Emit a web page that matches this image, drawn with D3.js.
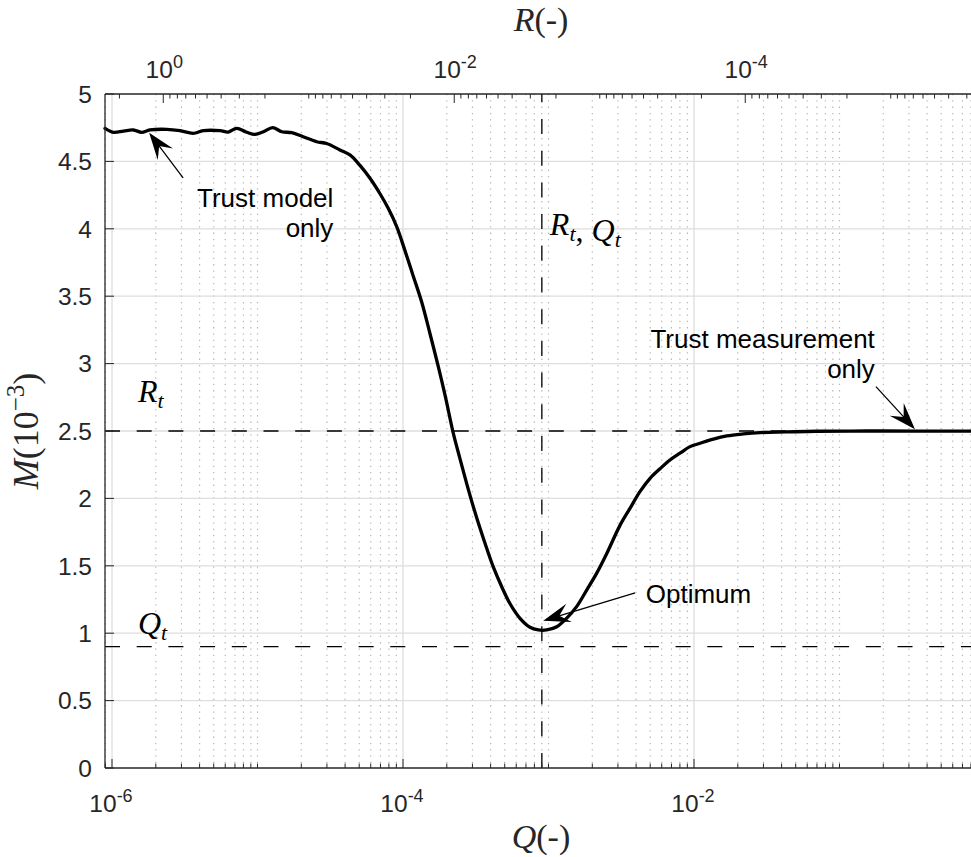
<!DOCTYPE html>
<html><head><meta charset="utf-8">
<script src="https://cdn.jsdelivr.net/npm/d3@7"></script>
<style>body{margin:0;background:#fff}svg{display:block}</style>
</head><body>
<svg id="chart" width="971" height="857"></svg>
<script>
// ---------- data ----------
const Q = [8.95e-7,1.02e-6,1.2e-6,1.4e-6,1.6e-6,1.82e-6,2.38e-6,2.93e-6,3.62e-6,4.24e-6,5.52e-6,6.3e-6,7.19e-6,8.43e-6,9.6e-6,
  1.1e-5,1.27e-5,1.47e-5,1.72e-5,2.06e-5,2.55e-5,2.99e-5,3.69e-5,4.32e-5,5.06e-5,5.93e-5,6.95e-5,7.93e-5,9.05e-5,
  1.03e-4,1.18e-4,1.35e-4,1.53e-4,1.75e-4,1.95e-4,2.22e-4,2.47e-4,2.74e-4,3.04e-4,3.38e-4,3.76e-4,4.18e-4,4.77e-4,5.43e-4,6.37e-4,7.46e-4,8.51e-4,9.72e-4,
  1.14e-3,1.33e-3,1.56e-3,1.83e-3,2.14e-3,2.51e-3,3.10e-3,3.63e-3,4.25e-3,4.99e-3,5.84e-3,6.84e-3,8.01e-3,9.39e-3,
  1.1e-2,1.36e-2,1.68e-2,2.18e-2,2.84e-2,4.34e-2,6.97e-2,0.154,0.35,1.0];
const M = [4.745,4.716,4.725,4.733,4.716,4.733,4.738,4.728,4.708,4.728,4.728,4.718,4.745,4.716,4.70,
  4.72,4.75,4.72,4.713,4.683,4.646,4.633,4.585,4.548,4.47,4.375,4.26,4.15,4.016,
  3.84,3.645,3.45,3.225,2.975,2.76,2.48,2.29,2.11,1.94,1.78,1.63,1.49,1.345,1.22,1.11,1.044,1.024,1.024,
  1.048,1.11,1.197,1.32,1.444,1.59,1.80,1.926,2.05,2.149,2.22,2.285,2.335,2.384,
  2.409,2.44,2.463,2.478,2.488,2.493,2.498,2.5,2.499,2.5];
const Rt = 2.5e-3;          // R_t
const Qt = 9e-4;            // Q_t
const Mref = [2.5, 0.9];    // horizontal reference lines (R_t, Q_t)
const qLimits = [8.95e-7, 1];
const yLimits = [0, 5];
const bottomTicks = [1e-6, 1e-4, 1e-2];
const bottomTickExp = ["-6", "-4", "-2"];
const topTicks = [1, 1e-2, 1e-4];
const topTickExp = ["0", "-2", "-4"];
const yTicks = [0,0.5,1,1.5,2,2.5,3,3.5,4,4.5,5];
const yTickLabels = ["0","0.5","1","1.5","2","2.5","3","3.5","4","4.5","5"];
const notes = [
  {lines:["Trust model","only"], q:3.32e-5, m:4.164, anchor:"end"},
  {lines:["Trust measurement","only"], q:0.175, m:3.116, anchor:"end"},
  {lines:["Optimum"], q:4.66e-3, m:1.222, anchor:"start"}
];
const arrows = [
  {from:[3.08e-6,4.377], to:[1.8e-6,4.713]},
  {from:[0.178,2.829], to:[0.33,2.513]},
  {from:[3.94e-3,1.30], to:[9.2e-4,1.093]}
];

// ---------- layout ----------
const L = 105, Rgt = 985, T = 94, B = 768;
const svg = d3.select("#chart");
const x = d3.scaleLog().domain(qLimits).range([L, Rgt]);
const rq = Rt * Qt;
const xr = d3.scaleLog().domain([rq/qLimits[0], rq/qLimits[1]]).range([L, Rgt]);
const y = d3.scaleLinear().domain(yLimits).range([B, T]);
const axisCol = "#262626";
const sans = "'Liberation Sans', Arial, Helvetica, sans-serif";
const serif = "'Liberation Serif', 'Times New Roman', serif";

function logTicks(dom, majors) {
  const lo = Math.min(...dom), hi = Math.max(...dom);
  const out = [];
  for (let k = -8; k <= 1; k++) for (let m = 1; m <= 9; m++) {
    const v = +(m * Math.pow(10, k)).toPrecision(6);
    if (v >= lo && v <= hi) out.push({v, major: m === 1 && majors.some(t => Math.abs(Math.log10(t) - k) < 1e-9)});
  }
  return out;
}
const bt = logTicks(qLimits, bottomTicks.concat([1]));
const tt = logTicks(xr.domain(), topTicks);

// grid
const grid = svg.append("g");
grid.selectAll(".vminor").data(bt.filter(d => !d.major)).join("line")
  .attr("x1", d => x(d.v)).attr("x2", d => x(d.v)).attr("y1", T).attr("y2", B)
  .attr("stroke", "#b5b5b5").attr("stroke-width", 1.2).attr("stroke-dasharray", "1.3,5");
grid.selectAll(".vmajor").data(bt.filter(d => d.major)).join("line")
  .attr("x1", d => x(d.v)).attr("x2", d => x(d.v)).attr("y1", T).attr("y2", B)
  .attr("stroke", "#dedede").attr("stroke-width", 1.3);
grid.selectAll(".hmajor").data(yTicks.slice(1, -1)).join("line")
  .attr("x1", L).attr("x2", Rgt).attr("y1", d => y(d)).attr("y2", d => y(d))
  .attr("stroke", "#dedede").attr("stroke-width", 1.3);

// reference dashed lines
const dash = "15,16.7";
svg.selectAll(".href").data(Mref).join("line")
  .attr("x1", L).attr("x2", Rgt).attr("y1", d => y(d)).attr("y2", d => y(d))
  .attr("stroke", "#000").attr("stroke-width", 1.3).attr("stroke-dasharray", dash);
svg.append("line").attr("x1", x(Qt)).attr("x2", x(Qt)).attr("y1", B).attr("y2", T)
  .attr("stroke", "#000").attr("stroke-width", 1.3).attr("stroke-dasharray", dash);

// curve
const pts = Q.map((q, i) => [q, M[i]]);
svg.append("path").datum(pts)
  .attr("d", d3.line().x(d => x(d[0])).y(d => y(d[1])).curve(d3.curveCatmullRom.alpha(0.5)))
  .attr("fill", "none").attr("stroke", "#000").attr("stroke-width", 3.3)
  .attr("stroke-linejoin", "round").attr("stroke-linecap", "round");

// axes lines
const ax = svg.append("g").attr("stroke", axisCol).attr("stroke-width", 1.3);
ax.append("line").attr("x1", L).attr("x2", Rgt).attr("y1", B).attr("y2", B);
ax.append("line").attr("x1", L).attr("x2", Rgt).attr("y1", T).attr("y2", T);
ax.append("line").attr("x1", L).attr("x2", L).attr("y1", T).attr("y2", B);
ax.selectAll(".bt").data(bt).join("line")
  .attr("x1", d => x(d.v)).attr("x2", d => x(d.v)).attr("y1", B).attr("y2", d => B - (d.major ? 9 : 4.5))
  .attr("stroke-width", 1);
ax.selectAll(".tt").data(tt).join("line")
  .attr("x1", d => xr(d.v)).attr("x2", d => xr(d.v)).attr("y1", T).attr("y2", d => T + (d.major ? 9 : 4.5))
  .attr("stroke-width", 1);
ax.selectAll(".yt").data(yTicks).join("line")
  .attr("x1", L).attr("x2", L + 9).attr("y1", d => y(d)).attr("y2", d => y(d)).attr("stroke-width", 1);

// tick labels
const fsTick = 24.5;
function powLabel(px, py, exp) {
  const t = svg.append("text").attr("x", px).attr("y", py).attr("text-anchor", "middle")
    .attr("font-family", sans).attr("font-size", fsTick).attr("fill", axisCol);
  t.append("tspan").text("10");
  t.append("tspan").attr("dy", -10).attr("font-size", 18).text(exp);
}
bottomTicks.forEach((v, i) => powLabel(x(v) - 1, 812, bottomTickExp[i]));
topTicks.forEach((v, i) => powLabel(xr(v) + 1, 78, topTickExp[i]));
svg.selectAll(".yl").data(yTicks).join("text")
  .attr("x", 92).attr("y", d => y(d) + 8.7).attr("text-anchor", "end")
  .attr("font-family", sans).attr("font-size", fsTick).attr("fill", axisCol)
  .text((d, i) => yTickLabels[i]);

// axis labels
const fsLab = 34;
function qlab(letter, py) {
  const t = svg.append("text").attr("x", (L + Rgt) / 2 - 4).attr("y", py).attr("text-anchor", "middle")
    .attr("font-family", serif).attr("font-size", fsLab).attr("fill", axisCol);
  t.append("tspan").attr("font-style", "italic").text(letter);
  t.append("tspan").text("(-)");
}
qlab("Q", 848);
qlab("R", 31);
const yl = svg.append("text").attr("transform", `translate(38,${(T + B) / 2}) rotate(-90)`)
  .attr("text-anchor", "middle").attr("font-family", serif).attr("font-size", 36).attr("fill", axisCol);
yl.append("tspan").attr("font-style", "italic").text("M");
yl.append("tspan").text("(10");
yl.append("tspan").attr("dy", -14).attr("font-size", 25).text("−3");
yl.append("tspan").attr("dy", 14).text(")");

// math labels R_t, Q_t
const fsMath = 32;
function sub(t, main, s) {
  t.append("tspan").attr("font-style", "italic").text(main);
  t.append("tspan").attr("font-style", "italic").attr("dy", 6).attr("font-size", 22).text(s);
  t.append("tspan").attr("dy", -6).text("");
}
function mathText(px, py) {
  return svg.append("text").attr("x", px).attr("y", py).attr("font-family", serif)
    .attr("font-size", fsMath).attr("fill", "#000");
}
sub(mathText(138, y(2.715)), "R", "t");
sub(mathText(138, y(0.994)), "Q", "t");
const t3 = mathText(x(Qt) + 8, y(3.954));
sub(t3, "R", "t");
t3.append("tspan").text(", ");
sub(t3, "Q", "t");

// annotations
notes.forEach(n => {
  const t = svg.append("text").attr("x", x(n.q)).attr("y", y(n.m)).attr("text-anchor", n.anchor)
    .attr("font-family", sans).attr("font-size", 26).attr("fill", "#000");
  n.lines.forEach((s, i) => t.append("tspan").attr("x", x(n.q)).attr("dy", i ? 30 : 0).text(s));
});
arrows.forEach(a => {
  const tx = x(a.to[0]), ty = y(a.to[1]), fx = x(a.from[0]), fy = y(a.from[1]);
  const len = Math.hypot(fx - tx, fy - ty), ux = (fx - tx) / len, uy = (fy - ty) / len;
  const nx = -uy, ny = ux, HL = 27, HW = 9.5;
  svg.append("line").attr("x1", fx).attr("y1", fy).attr("x2", tx + ux * 14).attr("y2", ty + uy * 14)
    .attr("stroke", "#000").attr("stroke-width", 1.3);
  const p = [[tx, ty], [tx + ux * HL + nx * HW, ty + uy * HL + ny * HW], [tx + ux * HL * 0.62, ty + uy * HL * 0.62],
             [tx + ux * HL - nx * HW, ty + uy * HL - ny * HW]];
  svg.append("path").attr("d", "M" + p.map(q => q.join(",")).join("L") + "Z").attr("fill", "#000");
});
</script>
</body></html>
